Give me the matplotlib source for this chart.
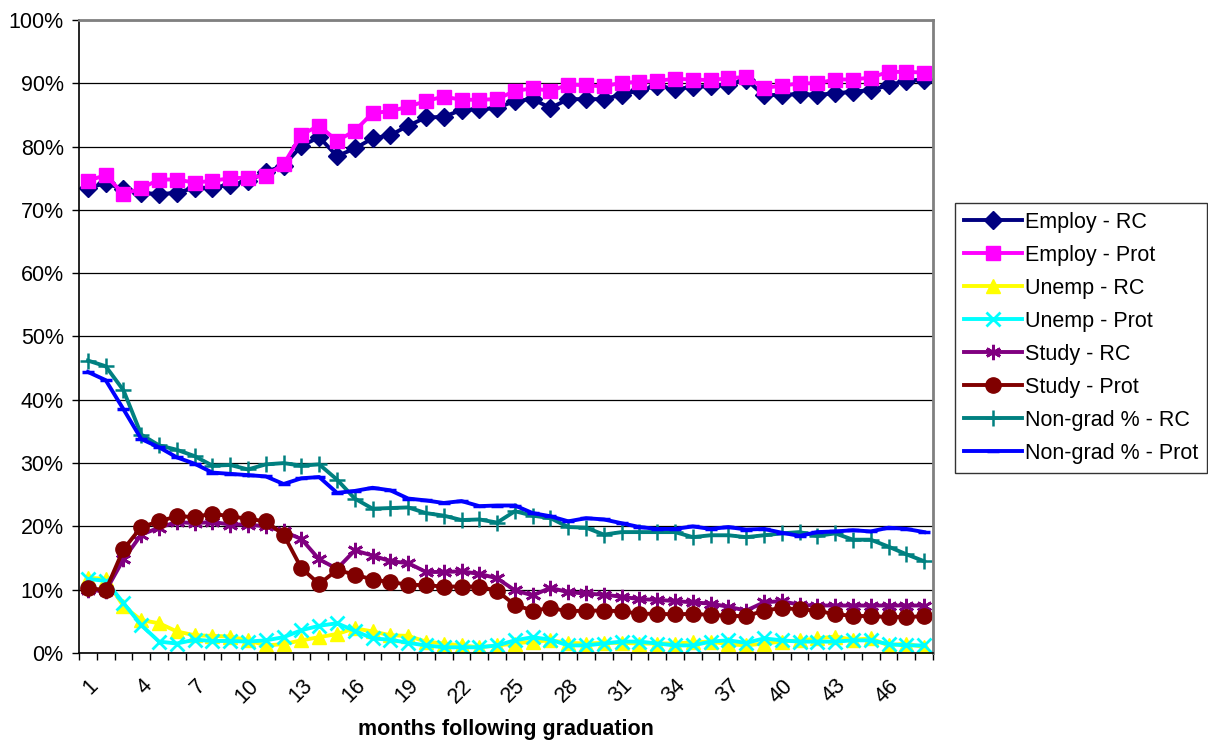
import matplotlib
matplotlib.use("Agg")
import matplotlib.pyplot as plt
from matplotlib.ticker import FixedLocator, FuncFormatter

plt.rcParams['font.family'] = ['Liberation Sans', 'DejaVu Sans']

months = list(range(1, 49))
tick_months = list(range(1, 48, 3))

employ_rc = [73.5, 74.2, 73.3, 72.7, 72.5, 72.7, 73.5, 73.5, 74.0, 74.5, 76.0, 77.0,
             80.1, 81.5, 78.5, 79.7, 81.3, 81.8, 83.3, 84.6, 84.7, 85.8, 85.9, 86.1,
             87.2, 87.5, 86.1, 87.5, 87.5, 87.5, 88.2, 88.9, 89.6, 89.1, 89.4, 89.6,
             89.8, 90.6, 88.1, 88.2, 88.3, 88.2, 88.4, 88.7, 88.9, 89.7, 90.4, 90.6]
employ_prot = [74.6, 75.5, 72.5, 73.4, 74.8, 74.8, 74.3, 74.6, 75.0, 75.1, 75.4, 77.2,
               81.9, 83.3, 80.9, 82.5, 85.3, 85.6, 86.3, 87.2, 87.9, 87.4, 87.4, 87.5,
               88.8, 89.2, 88.8, 89.8, 89.7, 89.5, 90.1, 90.2, 90.4, 90.7, 90.6, 90.5,
               90.8, 91.0, 89.3, 89.6, 90.0, 90.0, 90.6, 90.6, 90.9, 91.8, 91.8, 91.7]
unemp_rc = [11.9, 11.7, 7.4, 5.2, 4.7, 3.4, 2.8, 2.7, 2.6, 2.0, 1.2, 1.4,
            2.0, 2.5, 3.0, 3.9, 3.4, 2.8, 2.7, 1.8, 1.5, 1.2, 0.9, 1.2,
            1.5, 1.8, 2.0, 1.6, 1.5, 1.6, 1.6, 1.5, 1.5, 1.5, 1.7, 1.8,
            1.4, 1.2, 1.5, 1.8, 2.0, 2.3, 2.6, 2.1, 2.3, 1.2, 1.5, 0.9]
unemp_prot = [11.7, 11.4, 7.9, 4.4, 1.8, 1.5, 2.1, 1.9, 1.9, 1.8, 2.0, 2.5,
              3.6, 4.3, 4.7, 3.5, 2.3, 2.1, 1.6, 1.2, 0.9, 0.9, 0.9, 1.2,
              2.0, 2.5, 2.1, 1.2, 1.2, 1.5, 1.8, 1.8, 1.5, 1.2, 1.2, 1.8,
              2.0, 1.6, 2.3, 2.0, 1.8, 1.8, 1.8, 2.0, 2.0, 1.4, 1.2, 1.2]
study_rc = [9.9, 9.8, 14.8, 18.7, 19.8, 20.7, 20.5, 20.7, 20.3, 20.3, 20.0, 19.2,
            18.0, 14.8, 13.3, 16.2, 15.4, 14.5, 14.2, 12.8, 12.8, 12.9, 12.5, 11.8,
            9.9, 9.1, 10.3, 9.6, 9.4, 9.2, 8.9, 8.5, 8.4, 8.2, 8.0, 7.8,
            7.3, 6.7, 8.0, 8.2, 7.6, 7.5, 7.5, 7.5, 7.5, 7.5, 7.5, 7.5]
study_prot = [10.3, 9.9, 16.4, 19.9, 20.8, 21.6, 21.5, 22.0, 21.6, 21.2, 20.8, 18.7,
              13.4, 10.9, 13.1, 12.4, 11.6, 11.2, 10.8, 10.7, 10.5, 10.5, 10.5, 9.8,
              7.6, 6.7, 7.1, 6.6, 6.7, 6.7, 6.6, 6.2, 6.2, 6.1, 6.2, 6.0,
              5.9, 5.8, 6.7, 7.1, 6.9, 6.7, 6.1, 5.9, 5.8, 5.7, 5.7, 5.8]
nongrad_rc = [46.2, 45.3, 41.5, 34.5, 32.8, 32.1, 31.1, 29.6, 29.7, 29.0, 29.8, 30.0,
              29.6, 29.8, 27.4, 24.4, 22.8, 22.9, 23.0, 22.1, 21.7, 21.0, 21.1, 20.6,
              22.4, 21.7, 21.3, 19.9, 19.8, 18.7, 19.1, 19.1, 19.1, 19.1, 18.3, 18.6,
              18.6, 18.3, 18.6, 18.9, 19.1, 18.5, 18.9, 17.9, 17.9, 16.8, 15.6, 14.5]
nongrad_prot = [44.4, 43.1, 38.5, 33.8, 32.5, 30.9, 29.9, 28.5, 28.3, 28.1, 27.9, 26.7,
                27.6, 27.8, 25.3, 25.6, 26.1, 25.7, 24.4, 24.1, 23.7, 24.0, 23.2, 23.3,
                23.3, 22.1, 21.6, 20.8, 21.3, 21.1, 20.5, 19.9, 19.6, 19.6, 20.0, 19.6,
                19.9, 19.5, 19.6, 19.0, 18.5, 19.1, 19.2, 19.4, 19.2, 19.8, 19.6, 19.1]

series = [
    ("Employ - RC", employ_rc, dict(color="#000080", marker="D", ms=9.5, mec="#000080")),
    ("Employ - Prot", employ_prot, dict(color="#FF00FF", marker="s", ms=10.5, mec="#FF00FF")),
    ("Unemp - RC", unemp_rc, dict(color="#FFFF00", marker="^", ms=10.5, mec="#FFFF00")),
    ("Unemp - Prot", unemp_prot, dict(color="#00FFFF", marker="x", ms=10, mew=2.0)),
    ("Study - RC", study_rc, dict(color="#800080", marker=(6, 2, 0), ms=11, mew=2.0)),
    ("Study - Prot", study_prot, dict(color="#800000", marker="o", ms=11, mec="#800000")),
    ("Non-grad % - RC", nongrad_rc, dict(color="#008080", marker="+", ms=12, mew=1.8)),
    ("Non-grad % - Prot", nongrad_prot, dict(color="#0000FF", marker="_", ms=9, mew=2.5)),
]

fig = plt.figure(figsize=(12.08, 7.42), dpi=100)
ax = fig.add_axes([79 / 1208, 1 - 653 / 742, (933 - 79) / 1208, 633 / 742])

for label, vals, style in series:
    ax.plot(months, vals, label=label, lw=2.8, solid_joinstyle="round", **style)

ax.set_xlim(0.5, 48.5)
ax.set_ylim(0, 100)

# y axis: percent gridlines every 10
ax.set_yticks(range(0, 101, 10))
ax.yaxis.set_major_formatter(FuncFormatter(lambda v, p: f"{int(v)}%"))
ax.yaxis.grid(True, color="black", lw=0.9)
ax.set_axisbelow(True)
ax.tick_params(axis="y", direction="out", length=5, width=1, labelsize=15.5, pad=6)

# x axis: tick marks on category boundaries, labels every third month
ax.xaxis.set_minor_locator(FixedLocator([m + 0.5 for m in range(0, 49)]))
ax.set_xticks(tick_months)
ax.set_xticklabels([str(m) for m in tick_months], rotation=45, ha="right",
                   va="top", rotation_mode="anchor")
ax.tick_params(axis="x", which="major", length=0, labelsize=15.5, pad=16)
ax.tick_params(axis="x", which="minor", direction="out", length=5, width=1)

fig.text(506 / 1208, 1 - 729 / 742, "months following graduation",
         fontsize=15.5, fontweight="bold", ha="center", va="center")

for side in ("left", "bottom"):
    ax.spines[side].set_color("black")
    ax.spines[side].set_linewidth(1.2)
for side in ("top", "right"):
    ax.spines[side].set_color("#808080")
    ax.spines[side].set_linewidth(2)

leg = ax.legend(loc="upper left", bbox_to_anchor=(955 / 1208, 1 - 203 / 742),
                bbox_transform=fig.transFigure, frameon=True, fancybox=False,
                fontsize=15.5, handlelength=2.7, handletextpad=0.15,
                labelspacing=0.56, borderpad=0.4, borderaxespad=0)
leg.get_frame().set_edgecolor("black")
leg.get_frame().set_linewidth(1)

fig.savefig("out.png", dpi=100)
